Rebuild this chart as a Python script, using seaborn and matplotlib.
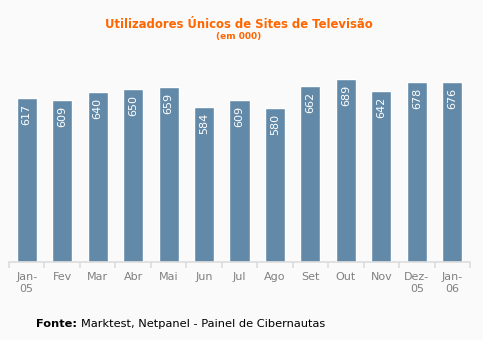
import matplotlib
matplotlib.use("Agg")
import matplotlib.pyplot as plt
import seaborn as sns
import pandas as pd
import numpy as np

months = ["Jan-\n05", "Fev", "Mar", "Abr", "Mai", "Jun", "Jul", "Ago", "Set", "Out", "Nov", "Dez-\n05", "Jan-\n06"]
values = [617, 609, 640, 650, 659, 584, 609, 580, 662, 689, 642, 678, 676]

sns.set_theme(style="white")
plt.rcParams['font.family'] = ['DejaVu Sans']

W, H = 483, 340
fig = plt.figure(figsize=(W / 100, H / 100), dpi=100, facecolor="#fafafa")
left, right, top, bottom = 9, 470, 40, 262
ax = fig.add_axes([left / W, 1 - bottom / H, (right - left) / W, (bottom - top) / H])
ax.set_facecolor("#fafafa")

df = pd.DataFrame({"mes": months, "valor": values})
sns.barplot(data=df, x="mes", y="valor", color="#6389a8", saturation=1, width=0.565, ax=ax)

ax.set_ylim(0, (bottom - top) / 0.2656)
ax.set_xlim(-0.5, len(months) - 0.5)
for s in ["top", "right", "left"]:
    ax.spines[s].set_visible(False)
ax.spines["bottom"].set_color("#dddddd")
ax.spines["bottom"].set_linewidth(1.2)
ax.set_yticks([])
ax.set_xlabel("")
ax.set_ylabel("")
ax.set_xticks(range(len(months)))
ax.set_xticklabels(months, fontsize=8, color="#808080", linespacing=1.25)
ax.tick_params(axis="x", which="major", length=0, pad=7)
ax.set_xticks(np.arange(-0.5, len(months), 1), minor=True)
ax.tick_params(axis="x", which="minor", length=4, color="#dddddd", width=1.2, bottom=True)

for p, v in zip(ax.patches, values):
    ax.annotate(str(v), (p.get_x() + p.get_width() / 2, p.get_height()),
                xytext=(0, -4), textcoords="offset points",
                ha="center", va="top", rotation=90, color="white", fontsize=8)

fig.text(239 / W, 1 - 24 / H, "Utilizadores Únicos de Sites de Televisão", ha="center", va="center",
         color="#ff6600", fontsize=8.4, fontweight="bold")
fig.text(239 / W, 1 - 37 / H, "(em 000)", ha="center", va="center",
         color="#ff6600", fontsize=6.5, fontweight="bold")

t1 = fig.text(36 / W, 1 - 324 / H, "Fonte:", ha="left", va="center", color="black",
              fontsize=8.2, fontweight="bold")
fig.canvas.draw()
bb = t1.get_window_extent()
fig.text((bb.x1 + 4) / W, 1 - 324 / H, "Marktest, Netpanel - Painel de Cibernautas",
         ha="left", va="center", color="black", fontsize=8.2)

fig.savefig("out.png", dpi=100, facecolor=fig.get_facecolor())
